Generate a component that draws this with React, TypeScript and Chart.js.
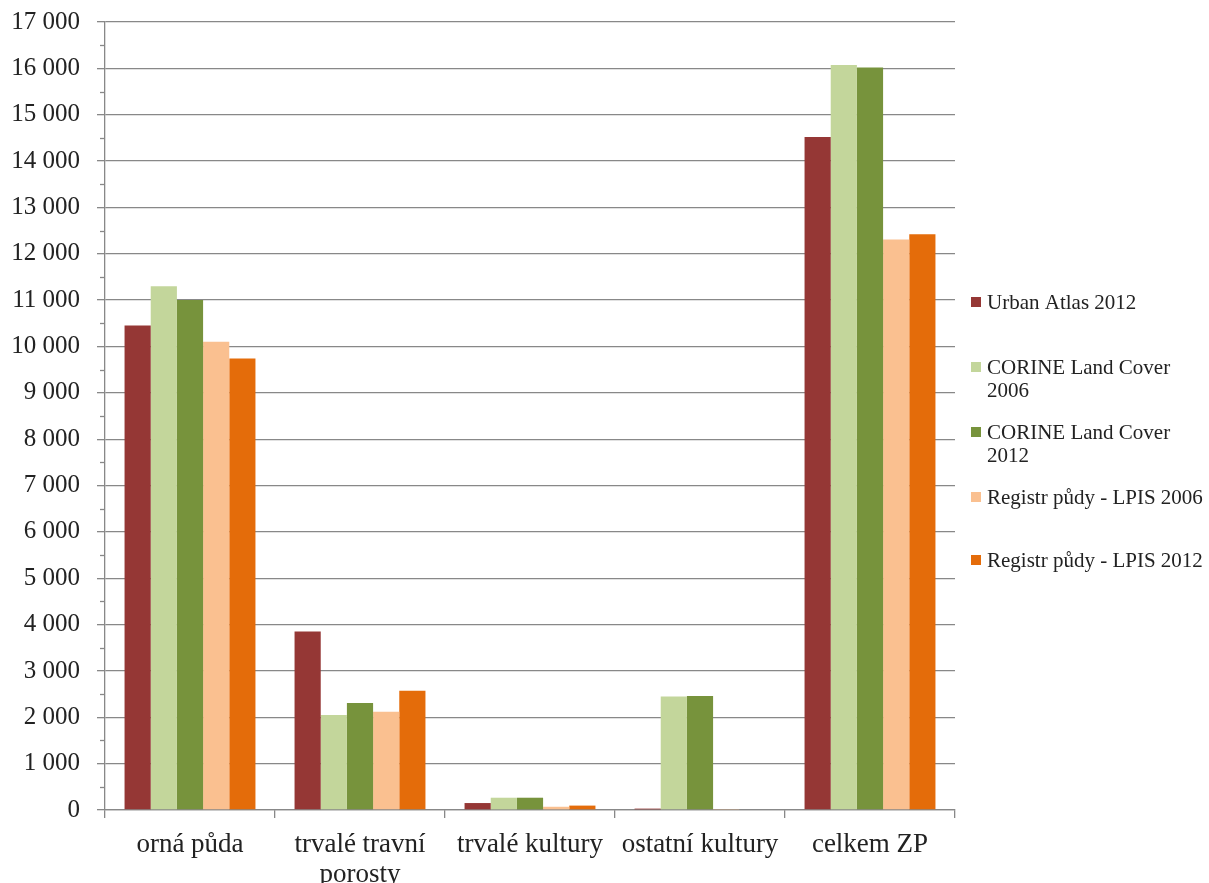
import React, { useEffect, useRef } from "react";
import { Chart, registerables } from "chart.js";

Chart.register(...registerables);

const categories: (string | string[])[] = [
  "orná půda",
  ["trvalé travní", "porosty"],
  "trvalé kultury",
  "ostatní kultury",
  "celkem ZP",
];

const seriesNames = [
  "Urban Atlas 2012",
  "CORINE Land Cover 2006",
  "CORINE Land Cover 2012",
  "Registr půdy - LPIS 2006",
  "Registr půdy - LPIS 2012",
];

const urbanAtlas2012 = [10450, 3850, 150, 30, 14520];
const clc2006 = [11300, 2050, 265, 2450, 16070];
const clc2012 = [11000, 2310, 265, 2460, 16020];
const lpis2006 = [10100, 2120, 70, 20, 12310];
const lpis2012 = [9740, 2570, 95, 0, 12420];

const seriesColors = ["#953735", "#C3D69B", "#77933C", "#FAC090", "#E46C0A"];

const legendLines: string[][] = [
  ["Urban Atlas 2012"],
  ["CORINE Land Cover", "2006"],
  ["CORINE Land Cover", "2012"],
  ["Registr půdy - LPIS 2006"],
  ["Registr půdy - LPIS 2012"],
];

const FONT = "'Liberation Serif', 'Times New Roman', serif";

const legendPlugin = {
  id: "customLegend",
  afterDraw(chart: any) {
    const ctx = chart.ctx;
    const firstLineY = [302, 367, 432, 497, 560];
    ctx.save();
    ctx.font = `21px ${FONT}`;
    ctx.textBaseline = "middle";
    ctx.textAlign = "left";
    legendLines.forEach((lines, i) => {
      const y0 = firstLineY[i];
      ctx.fillStyle = seriesColors[i];
      ctx.fillRect(971, y0 - 5, 10, 10);
      ctx.fillStyle = "#222";
      lines.forEach((t, j) => {
        ctx.fillText(t, 987, y0 + 1 + j * 23);
      });
    });
    ctx.restore();
  },
};

const minorTickPlugin = {
  id: "minorTicks",
  afterDraw(chart: any) {
    const ctx = chart.ctx;
    const y = chart.scales.y;
    const x0 = chart.chartArea.left;
    ctx.save();
    ctx.strokeStyle = "#888";
    ctx.lineWidth = 1.3;
    for (let v = 500; v < 17000; v += 1000) {
      const py = Math.round(y.getPixelForValue(v)) + 0.5;
      ctx.beginPath();
      ctx.moveTo(x0 - 5, py);
      ctx.lineTo(x0, py);
      ctx.stroke();
    }
    ctx.restore();
  },
};

export default function App() {
  const ref = useRef<HTMLCanvasElement | null>(null);

  useEffect(() => {
    if (!ref.current) return;
    const data = [urbanAtlas2012, clc2006, clc2012, lpis2006, lpis2012];
    const chart = new Chart(ref.current, {
      type: "bar",
      data: {
        labels: categories,
        datasets: data.map((d, i) => ({
          label: seriesNames[i],
          data: d,
          backgroundColor: seriesColors[i],
          borderWidth: 0,
          categoryPercentage: 0.77,
          barPercentage: 1.0,
        })),
      },
      options: {
        animation: false,
        responsive: true,
        maintainAspectRatio: false,
        layout: { padding: { left: 0, right: 254, top: 22, bottom: 0 } },
        plugins: {
          legend: { display: false },
          tooltip: { enabled: false },
        },
        scales: {
          x: {
            offset: true,
            grid: {
              offset: true,
              drawOnChartArea: false,
              drawTicks: true,
              tickLength: 8,
              color: "#888",
              lineWidth: 1.3,
            },
            border: { color: "#888", width: 1.3 },
            ticks: {
              color: "#222",
              font: { family: FONT, size: 27, lineHeight: 1.1 },
              maxRotation: 0,
              autoSkip: false,
              padding: 12,
            },
            afterFit(scale: any) {
              scale.height = 73;
              scale.paddingLeft = 0;
              scale.paddingRight = 0;
            },
          },
          y: {
            min: 0,
            max: 17000,
            ticks: {
              stepSize: 1000,
              color: "#222",
              font: { family: FONT, size: 25 },
              padding: 17,
              callback: (v: any) => {
                const n = Number(v);
                if (n >= 1000) {
                  const th = Math.floor(n / 1000);
                  return `${th} 000`;
                }
                return String(n);
              },
            },
            grid: {
              color: "#888",
              lineWidth: 1.3,
              tickLength: 8,
            },
            border: { color: "#888", width: 1.3 },
            afterFit(scale: any) {
              scale.width = 105;
              scale.paddingTop = 0;
              scale.paddingBottom = 0;
            },
          },
        },
      },
      plugins: [legendPlugin, minorTickPlugin],
    });
    return () => chart.destroy();
  }, []);

  return (
    <div style={{ position: "absolute", left: 0, top: 0, width: 1209, height: 883, background: "#fff" }}>
      <canvas ref={ref} />
    </div>
  );
}
